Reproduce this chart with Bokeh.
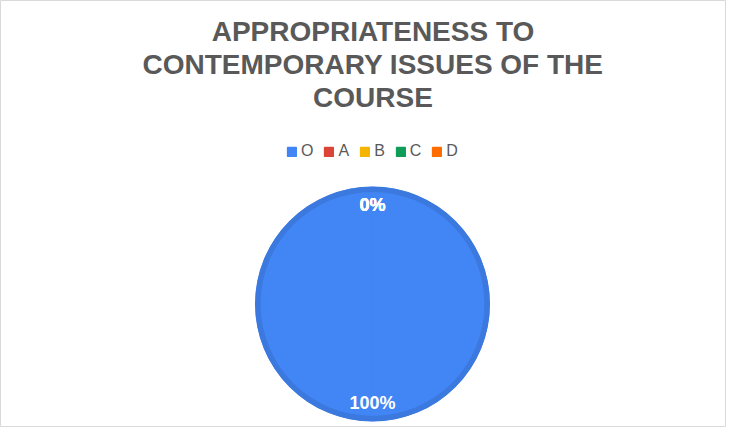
import math
from bokeh.plotting import figure
from bokeh.models import ColumnDataSource, Label, Range1d
from bokeh.embed import file_html
from bokeh.resources import INLINE

# ---- data ----
title_lines = ["APPROPRIATENESS TO", "CONTEMPORARY ISSUES OF THE", "COURSE"]
categories = ["O", "A", "B", "C", "D"]
percentages = [100, 0, 0, 0, 0]
colors = ["#4285F4", "#DB4437", "#F4B400", "#0F9D58", "#FF6D01"]

# ---- layout (pixel units) ----
W, H = 726, 427
CX, CY, R = 372, 123.5, 117.5
FONT = "Liberation Sans"

p = figure(width=W, height=H, x_range=Range1d(0, W), y_range=Range1d(0, H),
           output_backend="svg", toolbar_location=None, min_border=0,
           x_axis_type=None, y_axis_type=None)
p.grid.visible = False
p.outline_line_color = "#d9d9d9"
p.background_fill_color = "white"
p.border_fill_color = "white"

total = float(sum(percentages))
fr = [v / total for v in percentages]
cum_before = [sum(fr[:i]) for i in range(len(fr))]

def ang(c):
    # clockwise from 12 o'clock
    return math.pi / 2 - 2 * math.pi * c

# each slice is drawn as two halves (the SVG backend cannot draw a single 360 deg arc)
w_cat, w_start, w_end, w_color, w_r = [], [], [], [], []
for cat, col, cb, f in zip(categories, colors, cum_before, fr):
    for a0, a1 in ((cb, cb + f / 2), (cb + f / 2, cb + f)):
        w_cat.append(cat)
        w_start.append(ang(a0))
        w_end.append(ang(a1))
        w_color.append(col)
        w_r.append(R - 1 if f > 0 else 0)   # empty slices: keep legend entry only

wsrc = ColumnDataSource(dict(cat=w_cat, start=w_start, end=w_end, color=w_color,
                             r=w_r, x=[CX] * len(w_cat), y=[CY] * len(w_cat)))
p.wedge(x="x", y="y", radius="r", start_angle="start", end_angle="end",
        direction="clock", fill_color="color", line_color="color", line_width=1.5,
        legend_field="cat", source=wsrc)

# darker rim of the pie
p.annulus(x=[CX], y=[CY], inner_radius=R - 5.5, outer_radius=R,
          fill_color="#3b79de", line_color=None)

# percentage labels
mid = [ang(cb + f / 2) for cb, f in zip(cum_before, fr)]
lsrc = ColumnDataSource(dict(
    lx=[CX + 0.845 * R * math.cos(a) for a in mid],
    ly=[CY + 0.845 * R * math.sin(a) for a in mid],
    label=[f"{round(v)}%" for v in percentages]))
p.text(x="lx", y="ly", text="label", source=lsrc, text_color="white",
       text_font={"value": FONT}, text_font_style="bold", text_font_size="18px",
       text_align="center", text_baseline="middle")

# title
for i, t in enumerate(title_lines):
    p.add_layout(Label(x=372.5, y=396 - 33 * i, x_units="screen", y_units="screen",
                       text=t, text_font=FONT, text_font_style="bold",
                       text_font_size="28px", text_color="#595959",
                       text_align="center", text_baseline="alphabetic"))

lg = p.legend[0]
lg.orientation = "horizontal"
lg.location = (286, 267)
lg.glyph_width = 11
lg.glyph_height = 11
lg.label_standoff = 4
lg.spacing = 10
lg.label_width = 0
lg.label_height = 0
lg.padding = 0
lg.margin = 0
lg.border_line_alpha = 0
lg.background_fill_alpha = 0
lg.label_text_font = FONT
lg.label_text_font_size = "16px"
lg.label_text_color = "#595959"

open("out.html", "w").write(file_html(p, INLINE))
